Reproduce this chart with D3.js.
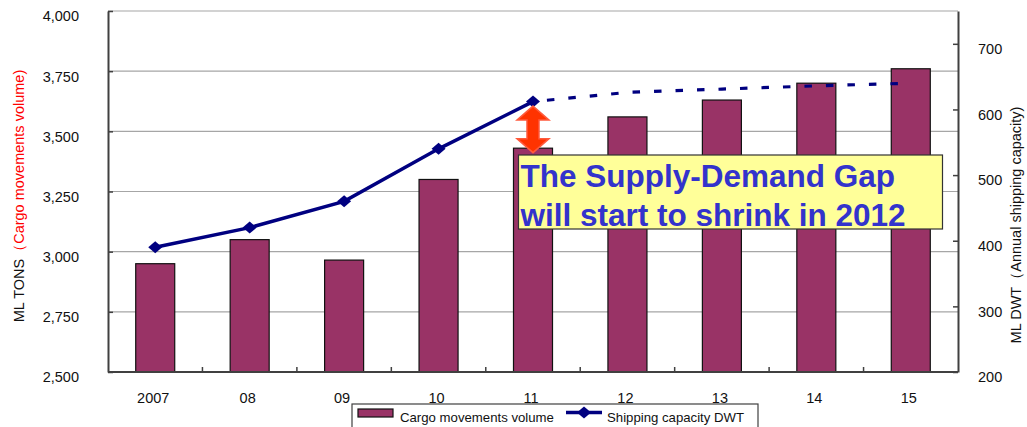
<!DOCTYPE html>
<html>
<head>
<meta charset="utf-8">
<script src="https://cdn.jsdelivr.net/npm/d3@7"></script>
<style>
  html, body { margin: 0; padding: 0; background: #fff; overflow: hidden; }
  svg { display: block; font-family: "Liberation Sans", Arial, sans-serif; }
</style>
</head>
<body>
<svg id="chart" width="1027" height="427"></svg>
<script>
// ---- data ----
const categories = ["2007", "08", "09", "10", "11", "12", "13", "14", "15"];
const cargoVolume = [2950, 3050, 2965, 3300, 3430, 3560, 3630, 3700, 3760];
const shippingCapacity = [390, 420, 460, 540, 612, 626, 631, 636, 640];
const actualCount = 5; // 2007..11 solid, forecast dashed afterwards
const leftTicks = [2500, 2750, 3000, 3250, 3500, 3750, 4000];
const rightTicks = [200, 300, 400, 500, 600, 700];
const seriesNames = ["Cargo movements volume", "Shipping capacity DWT"];
const annotationLines = ["The Supply-Demand Gap", "will start to shrink in 2012"];
const gapCategory = "11";

// ---- layout ----
const L = 108, R = 958, T = 11, B = 372;
const svg = d3.select("#chart");

const x = d3.scaleBand().domain(categories).range([L, R]).paddingInner(0.587).paddingOuter(0.2935);
const yL = d3.scaleLinear().domain([2500, 4000]).range([B, T]);
const yR = d3.scaleLinear().domain([200, 750]).range([B, T]);
const cx = c => x(c) + x.bandwidth() / 2;
const fmt = d3.format(",");

// gridlines
svg.append("g").selectAll("line").data(leftTicks.filter(d => d > 2500)).join("line")
  .attr("x1", L).attr("x2", R).attr("y1", d => yL(d)).attr("y2", d => yL(d))
  .attr("stroke", "#a6a6a6").attr("stroke-width", 1.2);

// left axis
const gL = svg.append("g").attr("transform", `translate(${L},0)`)
  .call(d3.axisLeft(yL).tickValues(leftTicks).tickFormat(fmt).tickSizeInner(-5).tickSizeOuter(0).tickPadding(29));
gL.select(".domain").attr("stroke", "#404040").attr("stroke-width", 2);
gL.selectAll(".tick line").attr("stroke", "#404040").attr("stroke-width", 1.5);
gL.selectAll(".tick text").attr("font-size", 14.5).attr("fill", "#111").attr("dy", "0.68em")
  .attr("font-family", "Liberation Sans, Arial, sans-serif");

// right axis
const gR = svg.append("g").attr("transform", `translate(${R},0)`)
  .call(d3.axisRight(yR).tickValues(rightTicks).tickSizeInner(-5).tickSizeOuter(0).tickPadding(20));
gR.select(".domain").attr("stroke", "#404040").attr("stroke-width", 2);
gR.selectAll(".tick line").attr("stroke", "#404040").attr("stroke-width", 1.5);
gR.selectAll(".tick text").attr("font-size", 14.5).attr("fill", "#111").attr("dy", "0.68em")
  .attr("font-family", "Liberation Sans, Arial, sans-serif");

// bars
svg.append("g").selectAll("rect").data(categories).join("rect")
  .attr("x", d => x(d)).attr("width", x.bandwidth())
  .attr("y", (d, i) => yL(cargoVolume[i])).attr("height", (d, i) => B - yL(cargoVolume[i]))
  .attr("fill", "#993366").attr("stroke", "#111").attr("stroke-width", 1.2);

// bottom axis
const gB = svg.append("g").attr("transform", `translate(0,${B})`);
gB.append("line").attr("x1", L).attr("x2", R).attr("stroke", "#404040").attr("stroke-width", 2);
const step = x.step();
gB.selectAll("line.tk").data(categories.slice(1)).join("line").attr("class", "tk")
  .attr("x1", d => x(d) - step * x.paddingInner() / 2).attr("x2", d => x(d) - step * x.paddingInner() / 2)
  .attr("y1", 0).attr("y2", -5).attr("stroke", "#404040").attr("stroke-width", 1.5);
gB.selectAll("text").data(categories).join("text")
  .attr("x", d => cx(d) - 2).attr("y", 31).attr("text-anchor", "middle")
  .attr("font-size", 14.5).attr("fill", "#111").text(d => d);

// shipping capacity line
const linePts = categories.map((c, i) => [cx(c), yR(shippingCapacity[i])]);
const lineGen = d3.line();
svg.append("path").attr("d", lineGen(linePts.slice(actualCount - 1)))
  .attr("fill", "none").attr("stroke", "#000080").attr("stroke-width", 3.2)
  .attr("stroke-dasharray", "7.5,14").attr("stroke-dashoffset", -14);
svg.append("path").attr("d", lineGen(linePts.slice(0, actualCount)))
  .attr("fill", "none").attr("stroke", "#000080").attr("stroke-width", 3.5);
const diamond = "M0,-6L7,0L0,6L-7,0Z";
svg.append("g").selectAll("path").data(linePts.slice(0, actualCount)).join("path")
  .attr("d", diamond).attr("transform", d => `translate(${d[0]},${d[1]})`)
  .attr("fill", "#000080");

// gap arrow (between line value and bar value in 2011)
const gi = categories.indexOf(gapCategory);
const ax = cx(gapCategory);
const aTop = yR(shippingCapacity[gi]) + 4.5;
const aBot = yL(cargoVolume[gi]) + 4.5;
const hw = 16, sw = 6, hh = 14;
const arrowPath = d3.path();
arrowPath.moveTo(ax, aTop);
arrowPath.lineTo(ax + hw, aTop + hh);
arrowPath.lineTo(ax + sw, aTop + hh);
arrowPath.lineTo(ax + sw, aBot - hh);
arrowPath.lineTo(ax + hw, aBot - hh);
arrowPath.lineTo(ax, aBot);
arrowPath.lineTo(ax - hw, aBot - hh);
arrowPath.lineTo(ax - sw, aBot - hh);
arrowPath.lineTo(ax - sw, aTop + hh);
arrowPath.lineTo(ax - hw, aTop + hh);
arrowPath.closePath();
svg.append("path").attr("d", arrowPath.toString())
  .attr("fill", "#ff3300").attr("stroke", "#ff5a3c").attr("stroke-width", 1.5);

// annotation box
const boxX = x(gapCategory) + 5, boxY = 155, boxW = 424, boxH = 74;
svg.append("rect").attr("x", boxX).attr("y", boxY).attr("width", boxW).attr("height", boxH)
  .attr("fill", "#ffff99").attr("stroke", "#333").attr("stroke-width", 1.2);
svg.append("g").selectAll("text").data(annotationLines).join("text")
  .attr("x", boxX + 2).attr("y", (d, i) => boxY + 32 + i * 38.5)
  .attr("font-size", 31.5).attr("font-weight", "bold").attr("fill", "#3333cc").text(d => d);

// axis titles
const tL = svg.append("text").attr("transform", "translate(24,196) rotate(-90)")
  .attr("text-anchor", "middle").attr("font-size", 14.5);
tL.append("tspan").attr("fill", "#111").text("ML TONS");
tL.append("tspan").attr("fill", "#ff0000").text("（Cargo movements volume)");
svg.append("text").attr("transform", "translate(1021,225) rotate(-90)")
  .attr("text-anchor", "middle").attr("font-size", 14.5).attr("fill", "#111")
  .text("ML DWT（Annual shipping capacity)");

// legend
const lg = svg.append("g");
lg.append("rect").attr("x", 352).attr("y", 404).attr("width", 406).attr("height", 30)
  .attr("fill", "#fff").attr("stroke", "#404040").attr("stroke-width", 1.2);
lg.append("rect").attr("x", 358).attr("y", 409).attr("width", 35).attr("height", 8)
  .attr("fill", "#993366").attr("stroke", "#111").attr("stroke-width", 1.2);
lg.append("text").attr("x", 400).attr("y", 422).attr("font-size", 13.2).attr("fill", "#111").text(seriesNames[0]);
lg.append("line").attr("x1", 566).attr("x2", 602).attr("y1", 412.5).attr("y2", 412.5)
  .attr("stroke", "#000080").attr("stroke-width", 3.5);
lg.append("path").attr("d", diamond).attr("transform", "translate(584,412.5)").attr("fill", "#000080");
lg.append("text").attr("x", 607).attr("y", 422).attr("font-size", 13.2).attr("fill", "#111").text(seriesNames[1]);
</script>
</body>
</html>
